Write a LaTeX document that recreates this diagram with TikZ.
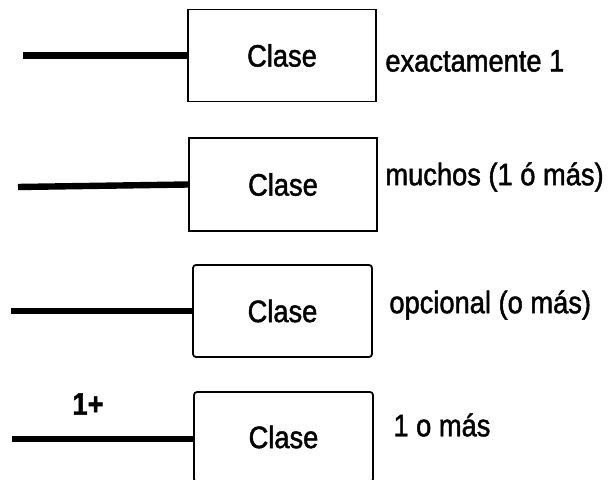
\documentclass[tikz,border=0pt]{standalone}
\usepackage{fontspec}
\setmainfont[FakeStretch=0.88,FakeBold=1.5]{Liberation Sans}
\usetikzlibrary{positioning}

\tikzset{
  clase/.style={draw, line width=0.9pt, inner sep=0pt,
    minimum width=94pt, minimum height=46pt,
    font=\fontsize{15.5}{18}\selectfont},
  rclase/.style={clase, rounded corners=1.5pt},
  rol/.style={line width=3.2pt},
  mult/.style={anchor=west, inner sep=0pt, font=\fontsize{15.5}{18}\selectfont}
}

\begin{document}
\begin{tikzpicture}[x=0.5pt,y=-0.5pt]
\clip (0,0) rectangle (610,480);
% exactamente 1
\node[clase] (c1) at (282,55.5) {Clase};
\coordinate (e1) at (23,55.5);
\draw[rol] (e1) -- (c1.west);
\node[mult] (m1) at (385,61) {exactamente 1};
% muchos
\node[clase, minimum height=46.5pt] (c2) at (283,184.5) {Clase};
\coordinate (e2) at (18,187);
\draw[rol] (e2) -- (c2.west);
\node[mult] (m2) at (385,177) {muchos (1 ó más)};
% opcional
\node[rclase, minimum width=89.5pt] (c3) at (282.5,311) {Clase};
\coordinate (e3) at (11,311);
\draw[rol] (e3) -- (c3.west);
\node[mult] (m3) at (389,305) {opcional (o más)};
% 1 o mas, la caja sigue por debajo del borde
\node[rclase, minimum width=89.5pt, minimum height=45pt] (c4) at (283.5,437) {Clase};
\coordinate (e4) at (12,439);
\draw[rol] (e4) -- (c4.west |- e4);
\node[font=\fontsize{15.5}{18}\selectfont\bfseries, inner sep=0pt] (n4) at (88,404) {1+};
\node[mult] (m4) at (393,425) {1 o más};
\end{tikzpicture}
\end{document}
